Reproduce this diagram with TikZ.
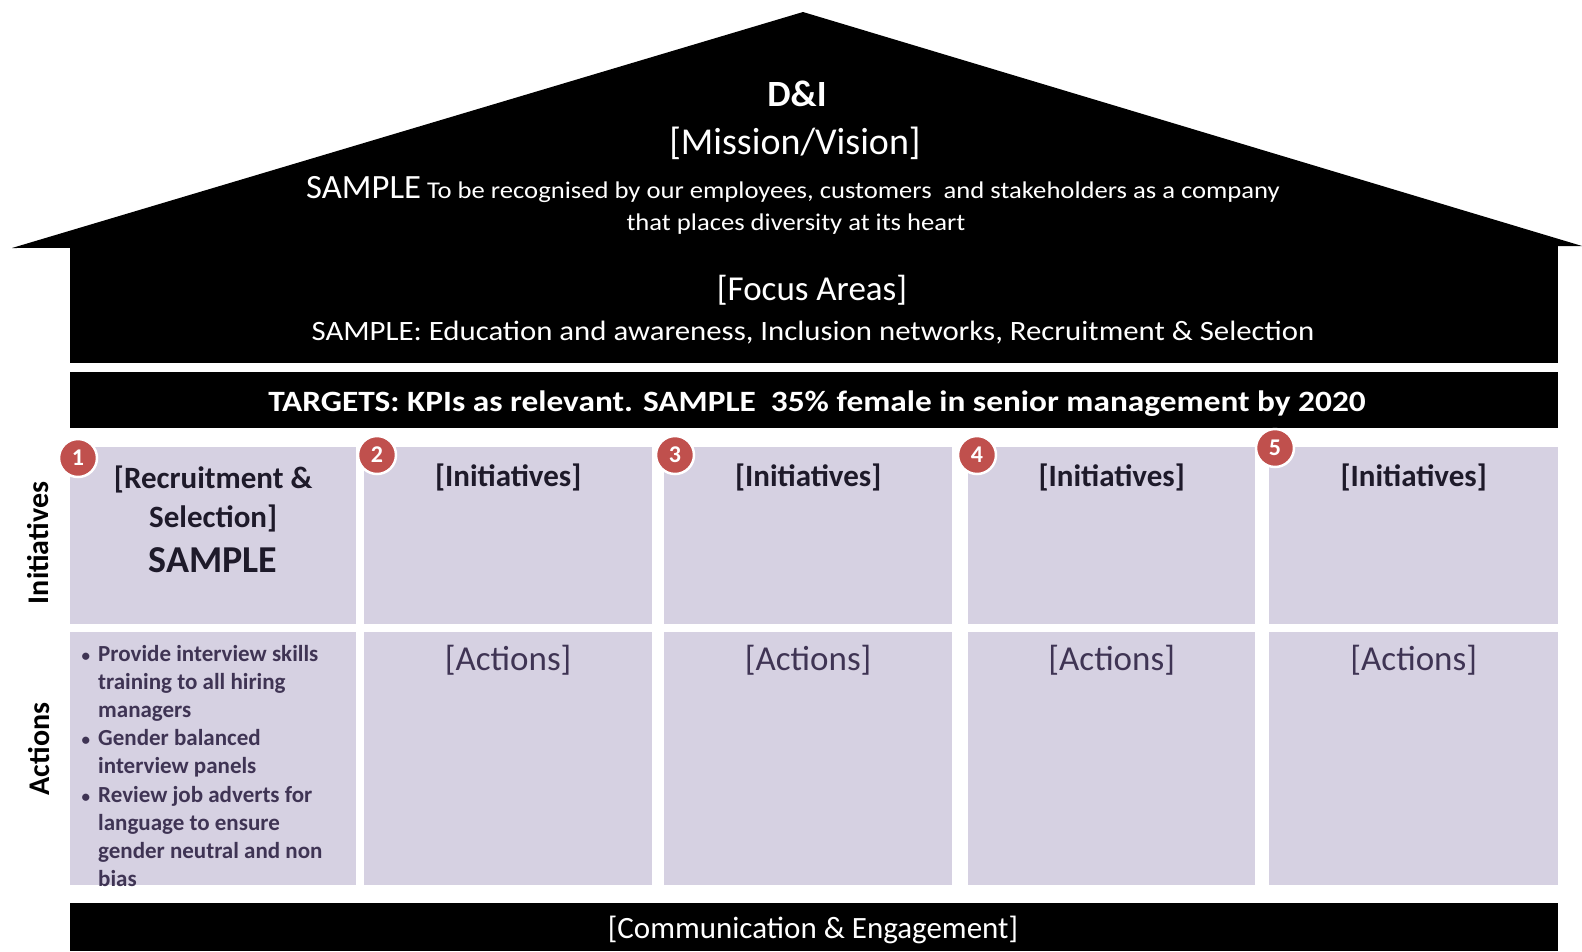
\documentclass[tikz,border=0pt]{standalone}
\usepackage{fontspec}
\setmainfont{Carlito}
\usepackage{tikz}
\usetikzlibrary{positioning}
\definecolor{cellfill}{RGB}{214,209,226}
\definecolor{badgered}{RGB}{192,80,77}
\definecolor{actiontext}{RGB}{63,52,84}
\definecolor{inittext}{RGB}{30,26,42}
\newcommand{\fsz}[1]{\fontsize{#1}{#1}\selectfont}
\newcommand{\widetext}[1]{\addfontfeatures{FakeStretch=#1}}
\newcommand{\itembullet}{\llap{{\fsz{17}\textbullet}\hspace{8pt}}}
\tikzstyle{house part}=[fill=black, inner sep=0pt, anchor=north west]
\tikzstyle{roof text}=[anchor=base, text=white, inner sep=0pt]
\tikzstyle{cell}=[fill=cellfill, inner sep=0pt, anchor=north west]
\tikzstyle{cell title}=[anchor=base, inner sep=0pt, text=inittext, font=\fsz{31}\bfseries]
\tikzstyle{action title}=[anchor=base, inner sep=0pt, text=actiontext, font=\fsz{35}]
\tikzstyle{badge}=[circle, fill=badgered, draw=white, line width=2.5pt, minimum size=38pt,
  inner sep=0pt, text=white, font=\fsz{24}\bfseries]
\tikzstyle{side label}=[rotate=90, anchor=base, inner sep=0pt, font=\fsz{30}\bfseries]

\begin{document}
\begin{tikzpicture}[x=1pt, y=-1pt, node distance=10pt]
  \useasboundingbox (0,0) rectangle (1582,951);

  % roof and walls
  \fill (12,248) -- (803,12) -- (1582,246) -- cycle;
  \fill (70,246) rectangle (1558,363);
  \node[house part, minimum width=1488pt, minimum height=56pt] (targetbar) at (70,372) {};
  \node[house part, minimum width=1488pt, minimum height=48pt] (commbar) at (70,903) {};

  \node[roof text, font=\fsz{37}\bfseries] (dandi) at (797,106) {D\&I};
  \node[roof text, font=\fsz{38}] (mission) at (795,154) {[Mission/Vision]};
  \node[roof text, font=\fsz{24}\widetext{1.11}] (vision1) at (793,198)
    {{\fsz{34}\widetext{1.02}SAMPLE} To be recognised by our employees, customers\ \ and stakeholders as a company};
  \node[roof text, font=\fsz{24}\widetext{1.11}] (vision2) at (796,230) {that places diversity at its heart};
  \node[roof text, font=\fsz{35}] (focus) at (812,300) {[Focus Areas]};
  \node[roof text, font=\fsz{28}\widetext{1.1}] (focuslist) at (813,340)
    {SAMPLE: Education and awareness, Inclusion networks, Recruitment \& Selection};
  \node[roof text, font=\fsz{29.5}\bfseries\widetext{1.13}] (targets) at (817,411)
    {TARGETS: KPIs as relevant. SAMPLE\ \ 35\% female in senior management by 2020};

  % pillars
  \foreach \n/\x/\w/\bx/\by in {1/70/286/78/458, 2/364/288/377/455, 3/664/288/675/455,
      4/968/287/977/455, 5/1269/289/1275/448} {
    \node[cell, minimum width=\w pt, minimum height=177pt] (init\n) at (\x,447) {};
    \node[cell, minimum width=\w pt, minimum height=253pt] (act\n) at (\x,632) {};
    \node[badge] (badge\n) at (\bx,\by) {\n};
  }
  \foreach \n in {2,3,4,5} {
    \node[cell title] (title\n) at (init\n.north |- 0,486) {[Initiatives]};
    \node[action title] (actions\n) at (act\n.north |- 0,670) {[Actions]};
  }

  \node[cell title] (recruit) at (init1.north |- 0,488) {[Recruitment \&};
  \node[cell title] (selection) at (init1.north |- 0,527) {Selection]};
  \node[cell title, font=\fsz{38}\bfseries] (sample) at (init1.north |- 0,572) {SAMPLE};

  % multi-line node: base is the last line
  \node[anchor=base west, align=left, inner sep=0pt, text=actiontext,
    font=\fontsize{23}{28.2}\selectfont\bfseries] (actionlist) at (98,886.6)
    {\itembullet Provide interview skills\\
     training to all hiring\\
     managers\\
     \itembullet Gender balanced\\
     interview panels\\
     \itembullet Review job adverts for\\
     language to ensure\\
     gender neutral and non\\
     bias};

  \node[side label] (sideinit) at (48,543) {Initiatives};
  \node[side label] (sideact) at (49,749) {Actions};

  \node[roof text, font=\fsz{31}] (comm) at (813,938) {[Communication \& Engagement]};
\end{tikzpicture}
\end{document}
